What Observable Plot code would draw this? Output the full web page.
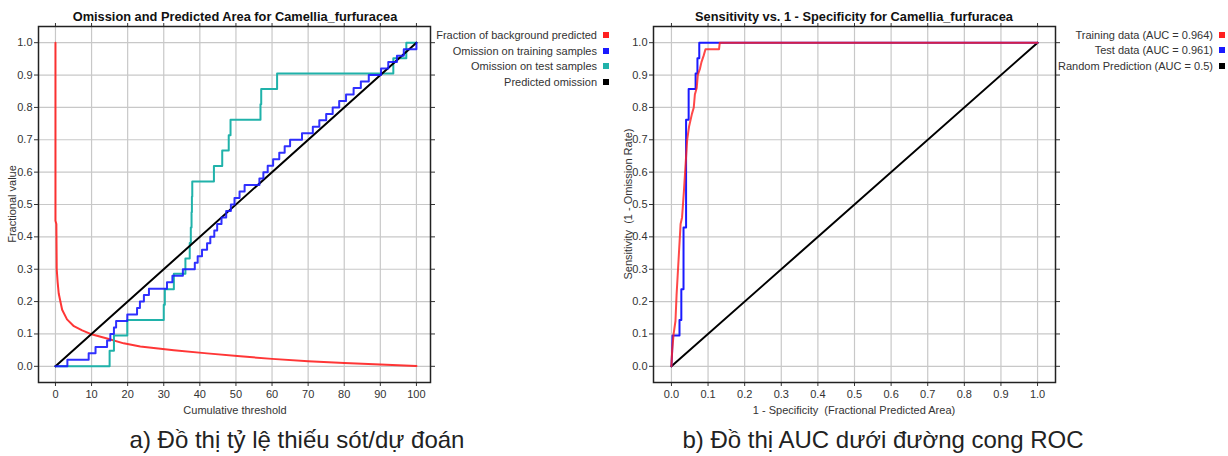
<!DOCTYPE html>
<html><head><meta charset="utf-8">
<script src="https://cdn.jsdelivr.net/npm/d3@7"></script>
<script src="https://cdn.jsdelivr.net/npm/@observablehq/plot@0.6"></script>
<style>
body{margin:0;background:#fff;}
#root{position:relative;width:1228px;height:456px;overflow:hidden;font-family:"Liberation Sans",Arial,sans-serif;background:#fff;}
.t{position:absolute;white-space:pre;transform:translate(-50%,-50%);}
.r{position:absolute;white-space:pre;transform:translate(-100%,-50%);font-size:11px;color:#333;}
.sq{position:absolute;width:6px;height:6px;transform:translate(0,-50%);}
</style></head><body><div id="root"></div>
<script>
// ---------- Panel a: omission / predicted area ----------
const leftTitle = "Omission and Predicted Area for Camellia_furfuracea";
const leftXLabel = "Cumulative threshold";
const leftYLabel = "Fractional value";
const leftCaption = "a) Đồ thị tỷ lệ thiếu sót/dự đoán";
const leftXTicks = [0,10,20,30,40,50,60,70,80,90,100];
const yTicks = [0,0.1,0.2,0.3,0.4,0.5,0.6,0.7,0.8,0.9,1.0];
const leftSeries = ["Fraction of background predicted","Omission on training samples","Omission on test samples","Predicted omission"];
const leftColors = ["#ff2020","#1a1aff","#20b2aa","#000000"];

// Fraction of background predicted
const bgX = [0,0,0.25,0.35,0.6,0.9,1.85,3.2,5.1,7.4,9.7,14.3,18.9,23.5,32.8,42,51.2,60,70,80,90,100];
const bgY = [1.0,0.45,0.44,0.30,0.26,0.225,0.175,0.145,0.124,0.111,0.10,0.086,0.071,0.061,0.05,0.04,0.031,0.023,0.016,0.010,0.006,0.001];
// Omission on training samples (step-after)
const trX = [0,3.3,9.2,11.1,14.3,15.2,16.2,16.8,19.9,22.6,23.4,24.5,25.9,30.9,32.4,35.3,38.6,39.4,40.6,42.0,42.9,44.0,44.8,46.0,47.3,48.6,49.6,51.0,52.4,56.5,57.6,58.8,60.3,62.0,63.5,65.0,68.3,71.3,73.1,75.0,76.8,78.6,80.5,82.6,84.6,86.8,90.2,92.2,94.6,96.5,100,100];
const trY = [0,0.02,0.04,0.06,0.08,0.10,0.12,0.14,0.16,0.18,0.20,0.22,0.24,0.26,0.28,0.30,0.32,0.34,0.36,0.38,0.40,0.42,0.44,0.46,0.48,0.50,0.52,0.54,0.56,0.58,0.60,0.62,0.64,0.66,0.68,0.70,0.72,0.74,0.76,0.78,0.80,0.82,0.84,0.86,0.88,0.90,0.92,0.94,0.96,0.98,0.98,1.0];
// Omission on test samples (step-after)
const teX = [0,15.0,16.2,19.9,30.0,30.3,32.8,36.0,37.2,37.5,37.7,37.8,37.9,43.9,46.2,48.0,48.5,56.8,57.0,61.4,93.6,97.2,100];
const teY = [0,0.048,0.095,0.143,0.190,0.238,0.286,0.333,0.381,0.429,0.476,0.524,0.571,0.619,0.667,0.714,0.762,0.810,0.857,0.905,0.952,1.0,1.0];
// Predicted omission
const poX = [0,100];
const poY = [0,1];

// ---------- Panel b: ROC ----------
const rightTitle = "Sensitivity vs. 1 - Specificity for Camellia_furfuracea";
const rightXLabel = "1 - Specificity  (Fractional Predicted Area)";
const rightYLabel = "Sensitivity  (1 - Omission Rate)";
const rightCaption = "b) Đồ thị AUC dưới đường cong ROC";
const rightXTicks = [0,0.1,0.2,0.3,0.4,0.5,0.6,0.7,0.8,0.9,1.0];
const rightSeries = ["Training data (AUC = 0.964)","Test data (AUC = 0.961)","Random Prediction (AUC = 0.5)"];
const rightColors = ["#ff2020","#1a1aff","#000000"];

const rocTrX = [0,0.002,0.006,0.011,0.014,0.017,0.021,0.025,0.029,0.034,0.039,0.043,0.048,0.052,0.056,0.061,0.064,0.069,0.072,0.078,0.082,0.088,0.093,0.130,0.132,1];
const rocTrY = [0,0.05,0.10,0.14,0.22,0.28,0.36,0.44,0.46,0.54,0.63,0.70,0.74,0.76,0.78,0.80,0.84,0.86,0.90,0.92,0.94,0.96,0.98,0.98,1.0,1.0];
const rocTeX = [0,0.002,0.003,0.022,0.022,0.027,0.027,0.033,0.033,0.040,0.040,0.047,0.047,0.066,0.066,0.071,0.071,0.076,0.076,1];
const rocTeY = [0,0.048,0.095,0.095,0.143,0.143,0.238,0.238,0.429,0.429,0.762,0.762,0.857,0.857,0.905,0.905,0.952,0.952,1.0,1.0];
const rndX = [0,1];
const rndY = [0,1];

const rows = (xs, ys) => xs.map((x, i) => ({x, y: ys[i]}));
const fmt1 = d3.format(".1f");
const root = document.getElementById("root");
const style = {fontFamily: "Liberation Sans, Arial, sans-serif", fontSize: "11px", color: "#333", background: "transparent"};
const gridStroke = "#c8c8c8";

function frameMarks(xt, xfmt) {
  return [
    Plot.gridX({ticks: xt, stroke: gridStroke, strokeOpacity: 1, strokeWidth: 1.2}),
    Plot.gridY({ticks: yTicks, stroke: gridStroke, strokeOpacity: 1, strokeWidth: 1.2}),
    Plot.axisX({ticks: xt, anchor: "bottom", tickSize: 4, tickPadding: 4, tickFormat: xfmt, label: null}),
    Plot.axisX({ticks: xt, anchor: "top", tickSize: 4, tickFormat: () => "", label: null}),
    Plot.axisY({ticks: yTicks, anchor: "left", tickSize: 4, tickPadding: 2, tickFormat: fmt1, label: null}),
    Plot.axisY({ticks: yTicks, anchor: "right", tickSize: 4, tickFormat: () => "", label: null})
  ];
}

const left = Plot.plot({
  width: 440, height: 405,
  marginLeft: 38, marginRight: 10, marginTop: 26, marginBottom: 23,
  x: {domain: [-4.7, 103.9]},
  y: {domain: [-0.05, 1.05]},
  style,
  marks: [
    ...frameMarks(leftXTicks, d => String(d)),
    Plot.line(rows(bgX, bgY), {x: "x", y: "y", stroke: leftColors[0], strokeWidth: 2, strokeOpacity: 0.9}),
    Plot.line(rows(teX, teY), {x: "x", y: "y", stroke: leftColors[2], strokeWidth: 2, curve: "step-after"}),
    Plot.line(rows(poX, poY), {x: "x", y: "y", stroke: leftColors[3], strokeWidth: 2}),
    Plot.line(rows(trX, trY), {x: "x", y: "y", stroke: leftColors[1], strokeWidth: 2, curve: "step-after", strokeOpacity: 0.9}),
    Plot.frame({stroke: "#222", strokeWidth: 1.5})
  ]
});
left.style.position = "absolute"; left.style.left = "0px"; left.style.top = "0px";
root.appendChild(left);

const right = Plot.plot({
  width: 445, height: 405,
  marginLeft: 33, marginRight: 10, marginTop: 26, marginBottom: 23,
  x: {domain: [-0.049, 1.049]},
  y: {domain: [-0.05, 1.05]},
  style,
  marks: [
    ...frameMarks(rightXTicks, fmt1),
    Plot.line(rows(rndX, rndY), {x: "x", y: "y", stroke: rightColors[2], strokeWidth: 2}),
    Plot.line(rows(rocTeX, rocTeY), {x: "x", y: "y", stroke: rightColors[1], strokeWidth: 2}),
    Plot.line(rows(rocTrX, rocTrY), {x: "x", y: "y", stroke: rightColors[0], strokeWidth: 2, strokeOpacity: 0.82}),
    Plot.frame({stroke: "#222", strokeWidth: 1.5})
  ]
});
right.style.position = "absolute"; right.style.left = "620px"; right.style.top = "0px";
root.appendChild(right);

function text(str, x, y, css) {
  const d = document.createElement("div");
  d.className = "t"; d.textContent = str;
  d.style.left = x + "px"; d.style.top = y + "px";
  Object.assign(d.style, css || {});
  root.appendChild(d);
  return d;
}
const titleCss = {fontSize: "12.8px", fontWeight: "bold", color: "#111"};
const axCss = {fontSize: "11px", color: "#333"};
text(leftTitle, 235, 16, titleCss);
text(rightTitle, 854, 16, titleCss);
text(leftXLabel, 235, 410, axCss);
text(rightXLabel, 854, 410, axCss);
text(leftYLabel, 12, 204, Object.assign({transform: "translate(-50%,-50%) rotate(-90deg)"}, axCss));
text(rightYLabel, 628, 204, Object.assign({transform: "translate(-50%,-50%) rotate(-90deg)"}, axCss));
text(leftCaption, 297, 440, {fontSize: "24px", color: "#222"});
text(rightCaption, 883, 440, {fontSize: "24px", color: "#222"});

function legend(names, colors, xr, y0, dy) {
  names.forEach((n, i) => {
    const d = document.createElement("div");
    d.className = "r"; d.textContent = n;
    d.style.left = xr + "px"; d.style.top = (y0 + i * dy) + "px";
    root.appendChild(d);
    const s = document.createElement("div");
    s.className = "sq"; s.style.background = colors[i];
    s.style.left = (xr + 6) + "px"; s.style.top = (y0 + i * dy) + "px";
    root.appendChild(s);
  });
}
legend(leftSeries, leftColors, 597, 35, 15.5);
legend(rightSeries, rightColors, 1213, 35, 15.3);
</script></body></html>
